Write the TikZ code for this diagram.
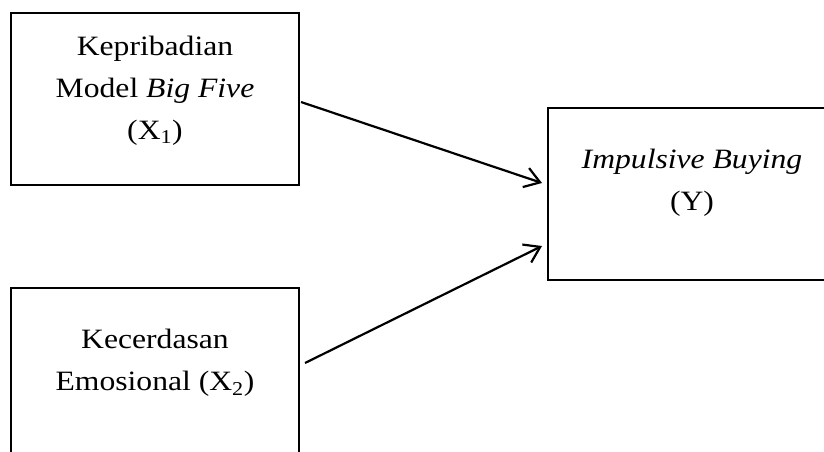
\documentclass[tikz,border=0pt]{standalone}
\usepackage{fontspec}
\setmainfont{Liberation Serif}
\usetikzlibrary{arrows.meta}
\begin{document}
\begin{tikzpicture}[x=1pt,y=-1pt,
  box/.style={draw, line width=1.8pt, rectangle, inner sep=0pt, outer sep=0pt, anchor=north west},
  lbl/.style={align=center, inner sep=0pt, anchor=north, xscale=1.13, transform shape, font=\fontsize{28}{42}\selectfont},
  arr/.style={line width=2.2pt, -{Straight Barb[length=15pt,width=20pt,line width=2.2pt]}}]
\useasboundingbox (0,0) rectangle (824,452);
\clip (0,0) rectangle (824,452);
\node[box, minimum width=288pt, minimum height=172pt] (b1) at (11,13) {};
\node[box, minimum width=288pt, minimum height=182pt] (b2) at (11,288) {};
\node[box, minimum width=288pt, minimum height=172pt] (b3) at (548,108) {};
\node[lbl] (t1) at (155,36) {Kepribadian\\Model \textit{Big Five}\\(X\textsubscript{1})};
\node[lbl] (t2) at (155,329) {Kecerdasan\\Emosional (X\textsubscript{2})};
\node[lbl] (t3) at (692,149) {\textit{Impulsive Buying}\\(Y)};
\draw[arr] ([shift={(2,89)}]b1.north east) -- ([shift={(-6,75)}]b3.north west);
\draw[arr] ([shift={(6,75)}]b2.north east) -- ([shift={(-6,138)}]b3.north west);
\end{tikzpicture}
\end{document}
